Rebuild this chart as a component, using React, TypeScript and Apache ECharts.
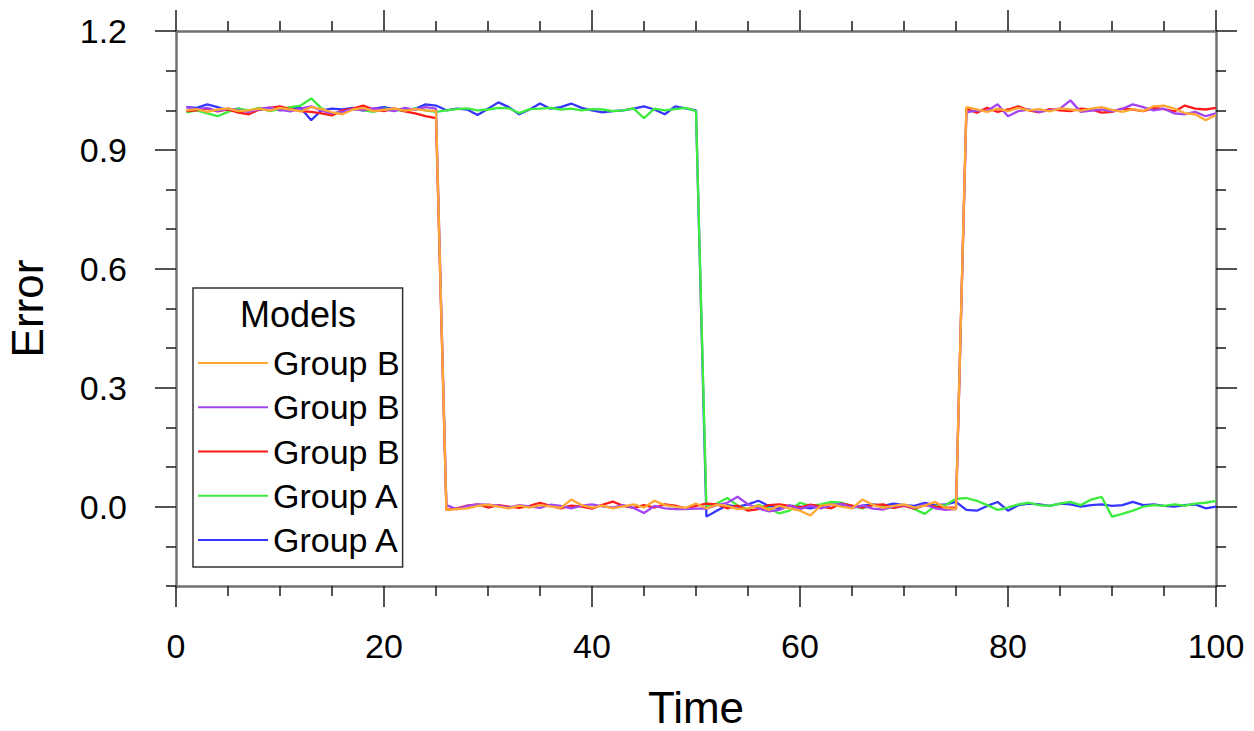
import React, { useEffect, useRef } from "react";
import * as echarts from "echarts";

// ---------- data ----------
const TIME: number[] = Array.from({ length: 100 }, (_, i) => i + 1);

const X_TICKS = [0, 20, 40, 60, 80, 100];
const Y_MAJOR = [0, 0.3, 0.6, 0.9, 1.2];
const Y_MINOR = [-0.2, -0.1, 0.1, 0.2, 0.4, 0.5, 0.7, 0.8, 1.0, 1.1];

// Group B, orange
const GROUP_B1 = [
  1.000, 1.003, 0.996, 1.002, 1.005, 0.998, 1.000, 1.004, 0.999, 1.006, 1.002, 0.997, 1.008, 1.003, 0.995, 0.990, 1.002, 1.006, 0.998, 1.001, 1.004, 0.999, 1.003, 1.000, 0.998,
  -0.008, -0.006, -0.004, 0.002, 0.005, 0.000, -0.004, 0.003, -0.002, 0.004, 0.001, -0.003, 0.018, 0.004, -0.002, 0.003, -0.004, 0.001, 0.006, -0.002, 0.015, 0.004, 0.000, -0.003, 0.008,
  -0.004, 0.005, 0.002, -0.006, -0.004, 0.003, -0.008, 0.002, -0.004, -0.010, -0.022, 0.003, 0.006, 0.000, -0.004, 0.018, 0.005, -0.003, 0.002, 0.006, -0.002, 0.003, 0.012, -0.003, -0.006,
  1.008, 1.002, 0.996, 1.004, 0.998, 1.006, 1.000, 1.003, 0.997, 1.005, 1.002, 0.999, 1.004, 1.008, 1.001, 0.996, 1.003, 0.998, 1.010, 1.012, 1.004, 0.993, 0.990, 0.975, 0.988,
];
// Group B, purple
const GROUP_B2 = [
  1.008, 1.002, 1.006, 0.998, 1.004, 1.000, 0.996, 1.003, 1.007, 1.001, 0.997, 1.004, 1.010, 0.999, 0.992, 0.996, 1.003, 1.000, 1.005, 1.002, 0.998, 1.006, 1.001, 1.008, 1.004,
  0.004, -0.006, 0.002, 0.006, 0.005, 0.003, -0.002, 0.004, 0.001, -0.003, 0.005, 0.002, -0.004, 0.003, 0.006, 0.001, -0.002, 0.004, -0.003, -0.016, 0.002, -0.004, -0.006, -0.006, -0.005,
  -0.005, 0.004, 0.010, 0.025, 0.006, -0.004, -0.012, -0.008, 0.003, -0.006, 0.002, -0.004, 0.004, 0.007, -0.002, 0.003, -0.005, -0.007, 0.001, 0.004, -0.003, 0.006, -0.004, -0.008, -0.006,
  0.995, 1.000, 0.998, 1.015, 0.985, 0.998, 1.002, 0.996, 1.000, 1.004, 1.025, 0.996, 0.999, 1.002, 0.997, 1.004, 1.015, 1.008, 1.000, 1.004, 0.992, 0.990, 0.996, 0.985, 0.992,
];
// Group B, red
const GROUP_B3 = [
  0.998, 1.000, 1.004, 0.997, 1.002, 0.994, 0.990, 1.002, 1.006, 1.010, 1.003, 0.998, 0.996, 0.992, 0.987, 1.000, 1.004, 1.012, 1.002, 0.998, 1.005, 0.997, 0.992, 0.985, 0.980,
  -0.008, -0.004, 0.003, 0.006, -0.002, 0.004, 0.000, -0.003, 0.002, 0.010, 0.002, -0.004, 0.003, 0.000, -0.005, 0.005, 0.013, 0.002, -0.003, 0.004, -0.002, 0.006, 0.003, -0.004, 0.002,
  0.008, 0.006, -0.004, 0.003, -0.010, -0.006, 0.004, 0.006, 0.002, -0.002, 0.005, 0.001, -0.004, 0.008, 0.003, -0.002, 0.004, 0.006, -0.003, 0.002, -0.005, 0.004, 0.000, -0.002, -0.003,
  1.004, 0.994, 1.006, 0.996, 1.002, 1.010, 1.000, 0.995, 1.003, 1.000, 0.998, 1.004, 1.002, 0.994, 0.996, 1.004, 1.002, 0.998, 1.006, 1.003, 0.997, 1.012, 1.004, 1.002, 1.006,
];
// Group A, green
const GROUP_A1 = [
  0.995, 1.000, 0.992, 0.985, 0.996, 1.004, 1.000, 1.006, 0.998, 1.003, 1.008, 1.012, 1.030, 1.005, 0.990, 0.998, 1.003, 1.000, 0.996, 1.004, 1.002, 0.998, 1.005, 1.000, 0.996,
  1.000, 1.003, 1.005, 1.000, 1.002, 1.006, 1.005, 0.993, 1.003, 1.004, 1.006, 1.002, 1.004, 1.000, 1.003, 1.002, 0.998, 1.000, 1.005, 0.980, 1.004, 1.000, 1.003, 1.006, 0.998,
  0.002, 0.008, 0.022, 0.003, -0.006, 0.005, -0.004, -0.017, -0.010, 0.010, 0.002, 0.006, 0.012, 0.010, 0.002, -0.004, 0.005, 0.000, -0.003, 0.004, -0.006, -0.018, 0.002, 0.004, 0.020,
  0.022, 0.015, 0.004, -0.008, -0.002, 0.006, 0.010, 0.004, 0.002, 0.008, 0.012, 0.004, 0.018, 0.025, -0.025, -0.018, -0.010, 0.000, 0.004, 0.002, 0.006, 0.003, 0.008, 0.010, 0.015,
];
// Group A, blue
const GROUP_A2 = [
  1.008, 1.006, 1.015, 1.008, 1.000, 1.004, 0.998, 1.002, 1.006, 1.000, 1.004, 1.006, 0.975, 1.000, 1.004, 1.002, 1.006, 1.000, 1.004, 1.008, 1.002, 1.000, 1.004, 1.015, 1.012,
  1.000, 1.004, 1.002, 0.988, 1.004, 1.020, 1.008, 0.990, 1.002, 1.017, 1.004, 1.008, 1.017, 1.006, 1.000, 0.995, 0.998, 1.000, 1.004, 1.010, 1.002, 0.990, 1.010, 1.005, 1.000,
  -0.025, -0.010, 0.004, 0.000, 0.006, 0.015, 0.002, -0.004, 0.003, 0.000, -0.004, 0.002, 0.006, 0.004, -0.002, 0.003, 0.006, 0.002, 0.008, 0.004, 0.002, 0.010, 0.004, 0.006, 0.012,
  -0.008, -0.010, 0.002, 0.012, -0.010, 0.004, 0.008, 0.006, 0.002, 0.008, 0.006, 0.000, 0.004, 0.006, 0.002, 0.004, 0.012, 0.004, 0.006, 0.002, 0.000, 0.004, 0.006, -0.004, 0.000,
];

const SERIES_IDS = ["B1", "B2", "B3", "A1", "A2"];
const SERIES_LABELS: Record<string, string> = {
  B1: "Group B",
  B2: "Group B",
  B3: "Group B",
  A1: "Group A",
  A2: "Group A",
};
const SERIES_VALUES: Record<string, number[]> = {
  B1: GROUP_B1,
  B2: GROUP_B2,
  B3: GROUP_B3,
  A1: GROUP_A1,
  A2: GROUP_A2,
};

// ---------- styles ----------
const COLORS: Record<string, string> = {
  B1: "#ffa733",
  B2: "#a245f2",
  B3: "#ff1a1a",
  A1: "#3ded3d",
  A2: "#3535ff",
};
const DRAW_ORDER = ["A2", "A1", "B3", "B2", "B1"];
const FONT = "'Liberation Sans', Arial, Helvetica, sans-serif";
const AXIS_LINE = { color: "#707070", width: 2.5 };
const TICK_LINE = { color: "#1a1a1a", width: 1.5 };

export default function App() {
  const ref = useRef<HTMLDivElement>(null);

  useEffect(() => {
    if (!ref.current) return;
    const chart = echarts.init(ref.current, undefined, { renderer: "svg" });

    const xBase = {
      type: "value" as const,
      min: 0,
      max: 100,
      interval: 20,
      axisLine: { show: true, onZero: false, lineStyle: AXIS_LINE },
      axisTick: { show: true, inside: false, length: 21, lineStyle: TICK_LINE },
      minorTick: { show: true, splitNumber: 4, length: 10, lineStyle: TICK_LINE },
      splitLine: { show: false },
      minorSplitLine: { show: false },
    };

    const yMajor = {
      type: "value" as const,
      min: -0.2,
      max: 1.2,
      axisLine: { show: true, onZero: false, lineStyle: AXIS_LINE },
      axisTick: { show: true, inside: false, length: 21, lineStyle: TICK_LINE, customValues: Y_MAJOR },
      splitLine: { show: false },
    };
    const yMinor = {
      type: "value" as const,
      min: -0.2,
      max: 1.2,
      axisLine: { show: false, onZero: false },
      axisTick: { show: true, inside: false, length: 10, lineStyle: TICK_LINE, customValues: Y_MINOR },
      axisLabel: { show: false },
      splitLine: { show: false },
    };

    const option: any = {
      animation: false,
      backgroundColor: "#ffffff",
      textStyle: { fontFamily: FONT },
      grid: {
        left: 176,
        right: 38,
        top: 31,
        bottom: 145,
        containLabel: false,
        outerBoundsMode: "none",
      },
      xAxis: [
        {
          ...xBase,
          position: "bottom",
          axisLabel: {
            show: true,
            fontSize: 34,
            color: "#000",
            margin: 43,
            fontFamily: FONT,
            customValues: X_TICKS,
          },
          name: "Time",
          nameLocation: "middle",
          nameGap: 99,
          nameTextStyle: { fontSize: 44, color: "#000", fontFamily: FONT },
        },
        {
          ...xBase,
          position: "top",
          axisLabel: { show: false },
        },
      ],
      yAxis: [
        {
          ...yMajor,
          position: "left",
          axisLabel: {
            show: true,
            fontSize: 34,
            color: "#000",
            margin: 49,
            fontFamily: FONT,
            customValues: Y_MAJOR,
            formatter: (v: number) => v.toFixed(1),
          },
          name: "Error",
          nameLocation: "middle",
          nameGap: 127,
          nameTextStyle: { fontSize: 44, color: "#000", fontFamily: FONT },
        },
        { ...yMajor, position: "right", axisLabel: { show: false } },
        { ...yMinor, position: "left" },
        { ...yMinor, position: "right" },
      ],
      legend: {
        data: SERIES_IDS,
        orient: "vertical",
        left: 193,
        top: 288,
        padding: [57, 3, 9, 5],
        itemWidth: 70,
        itemHeight: 2,
        itemGap: 8.25,
        icon: "rect",
        borderColor: "#333",
        borderWidth: 1.5,
        borderRadius: 0,
        backgroundColor: "#ffffff",
        selectedMode: false,
        formatter: (name: string) => SERIES_LABELS[name],
        textStyle: { fontSize: 34, lineHeight: 36, color: "#000", fontFamily: FONT },
      },
      graphic: [
        {
          type: "text",
          z: 100,
          x: 298,
          y: 314,
          style: {
            text: "Models",
            fontSize: 36,
            fontFamily: FONT,
            fill: "#000",
            textAlign: "center",
            textVerticalAlign: "middle",
          },
        },
      ],
      series: DRAW_ORDER.map((id) => ({
        id,
        name: id,
        type: "line",
        xAxisIndex: 0,
        yAxisIndex: 0,
        symbol: "none",
        color: COLORS[id],
        lineStyle: { color: COLORS[id], width: 2.3 },
        data: TIME.map((t, i) => [t, SERIES_VALUES[id][i]]),
      })),
    };

    chart.setOption(option);
    return () => chart.dispose();
  }, []);

  return (
    <div
      ref={ref}
      style={{ position: "fixed", left: 0, top: 0, width: 1254, height: 731, background: "#fff" }}
    />
  );
}
